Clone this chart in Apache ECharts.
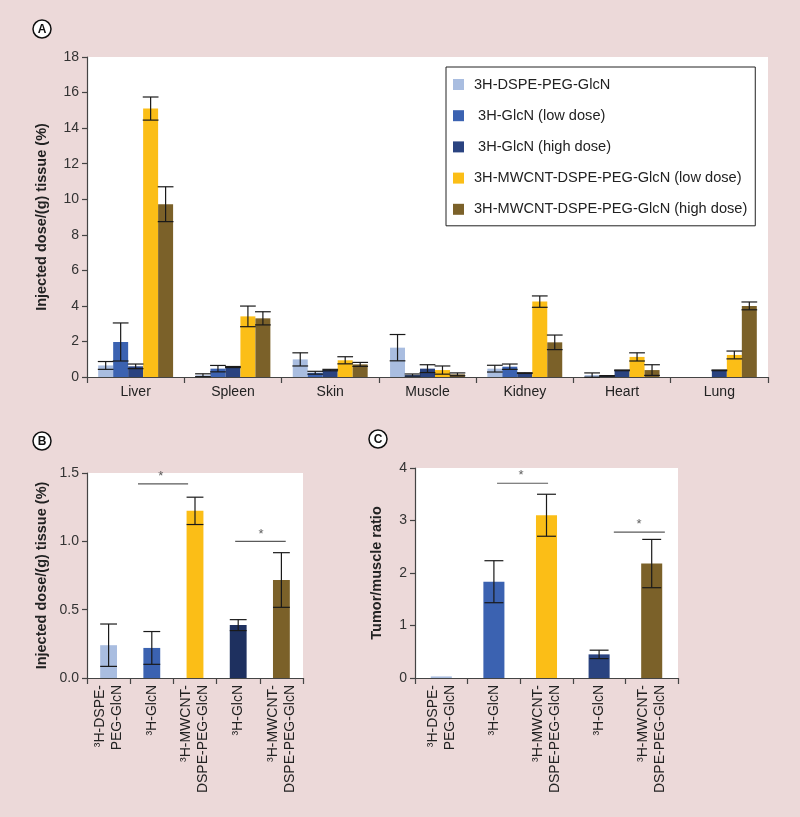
<!DOCTYPE html>
<html>
<head>
<meta charset="utf-8">
<script src="https://cdn.jsdelivr.net/npm/echarts@6/dist/echarts.min.js"></script>
<style>
html,body{margin:0;padding:0;background:#ecd9d9;}
#chart{width:800px;height:817px;}
</style>
</head>
<body>
<div id="chart"></div>
<script>
// ---------- Data ----------
const tissues = ['Liver', 'Spleen', 'Skin', 'Muscle', 'Kidney', 'Heart', 'Lung'];
const seriesNamesA = ['3H-DSPE-PEG-GlcN', ' 3H-GlcN (low dose)', ' 3H-GlcN (high dose)', '3H-MWCNT-DSPE-PEG-GlcN (low dose)', '3H-MWCNT-DSPE-PEG-GlcN (high dose)'];
const dspePegGlcN   = [0.65, 0.10, 0.99, 1.65, 0.47, 0.11, 0];
const glcnLow       = [1.97, 0.47, 0.24, 0.11, 0.58, 0.06, 0];
const glcnHigh      = [0.60, 0.56, 0.39, 0.47, 0.22, 0.375, 0.375];
const mwcntLow      = [15.1, 3.41, 0.94, 0.39, 4.24, 1.13, 1.24];
const mwcntHigh     = [9.72, 3.30, 0.71, 0.15, 1.95, 0.39, 4.00];
const errDspePegGlcN = [0.22, 0.08, 0.37, 0.74, 0.19, 0.12, 0];
const errGlcnLow     = [1.07, 0.18, 0.08, 0.06, 0.15, 0.02, 0];
const errGlcnHigh    = [0.13, 0.03, 0.04, 0.22, 0.02, 0.02, 0.02];
const errMwcntLow    = [0.65, 0.58, 0.20, 0.23, 0.32, 0.23, 0.22];
const errMwcntHigh   = [0.98, 0.37, 0.11, 0.08, 0.41, 0.30, 0.22];

const groupsBC = ['³H-DSPE-\nPEG-GlcN', '³H-GlcN', '³H-MWCNT-\nDSPE-PEG-GlcN', '³H-GlcN', '³H-MWCNT-\nDSPE-PEG-GlcN'];
const tumorDose   = [0.24, 0.22, 1.223, 0.387, 0.717];
const tumorDoseErr = [0.155, 0.12, 0.10, 0.04, 0.20];
const tumorMuscle   = [0.03, 1.834, 3.10, 0.45, 2.18];
const tumorMuscleErr = [0.0, 0.40, 0.40, 0.08, 0.46];

const ticksA = [0, 18, 2];
const ticksB = [0, 1.5, 0.5];
const ticksC = [0, 4, 1];

// significance brackets: [xStart, xEnd, y] in category-index units
const sigB = [[0.68, 1.84, 1.42], [2.93, 4.10, 1.00]];
const sigC = [[1.06, 2.03, 3.71], [3.28, 4.25, 2.78]];
const starB = [[1.21, 1.50], [3.53, 1.075]];
const starC = [[1.515, 3.92], [3.76, 2.99]];

// ---------- Styles ----------
const colorsA = ['#a9bde0', '#3b62b1', '#2a4380', '#fbbe17', '#7b6129'];
const colorsB = ['#a9bde0', '#3b62b1', '#fbbe17', '#1e305f', '#7b6129'];
const colorsC = ['#a9bde0', '#3b62b1', '#fbbe17', '#2a4380', '#7b6129'];
const txt = '#222';
const axisCol = '#444';
const fontFam = '"Liberation Sans", Arial, Helvetica, sans-serif';

const valuesA = [dspePegGlcN, glcnLow, glcnHigh, mwcntLow, mwcntHigh];
const errsA = [errDspePegGlcN, errGlcnLow, errGlcnHigh, errMwcntLow, errMwcntHigh];

const gapA = 0.23;

function errRenderer(k, nBars, gap, capRatio) {
  return function (params, api) {
    const c = api.value(0);
    const lo = api.coord([c, api.value(1)]);
    const hi = api.coord([c, api.value(2)]);
    const cw = api.size([1, 0])[0];
    const gw = cw * (1 - gap);
    const bw = gw / nBars;
    const cx = lo[0] - gw / 2 + (k + 0.5) * bw;
    const half = bw * capRatio / 2;
    const st = { stroke: '#1a1a1a', lineWidth: 1.2 };
    return {
      type: 'group',
      children: [
        { type: 'line', shape: { x1: cx, y1: lo[1], x2: cx, y2: hi[1] }, style: st },
        { type: 'line', shape: { x1: cx - half, y1: hi[1], x2: cx + half, y2: hi[1] }, style: st },
        { type: 'line', shape: { x1: cx - half, y1: lo[1], x2: cx + half, y2: lo[1] }, style: st }
      ]
    };
  };
}

const series = [];
// Panel A bars
valuesA.forEach((vals, k) => {
  series.push({
    name: seriesNamesA[k], type: 'bar', xAxisIndex: 0, yAxisIndex: 0,
    data: vals, barGap: '0%', barCategoryGap: (gapA * 100) + '%',
    itemStyle: { color: colorsA[k] }, silent: true
  });
});
// Panel A error bars
valuesA.forEach((vals, k) => {
  const d = vals.map((v, i) => [i, v - errsA[k][i], v + errsA[k][i]]).filter((d, i) => errsA[k][i] > 0);
  series.push({
    type: 'custom', xAxisIndex: 0, yAxisIndex: 0, z: 5, silent: true,
    renderItem: errRenderer(k, 5, gapA, 1.05), data: d, encode: { x: 0, y: [1, 2] }
  });
});
// Panel B
series.push({
  type: 'bar', xAxisIndex: 1, yAxisIndex: 1, barCategoryGap: '61%', silent: true,
  data: tumorDose.map((v, i) => ({ value: v, itemStyle: { color: colorsB[i] } }))
});
series.push({
  type: 'custom', xAxisIndex: 1, yAxisIndex: 1, z: 5, silent: true,
  renderItem: errRenderer(0, 1, 0.61, 1.0),
  data: tumorDose.map((v, i) => [i, v - tumorDoseErr[i], v + tumorDoseErr[i]]),
  encode: { x: 0, y: [1, 2] }
});
// Panel C
series.push({
  type: 'bar', xAxisIndex: 2, yAxisIndex: 2, barCategoryGap: '60%', silent: true,
  data: tumorMuscle.map((v, i) => ({ value: v, itemStyle: { color: colorsC[i] } }))
});
series.push({
  type: 'custom', xAxisIndex: 2, yAxisIndex: 2, z: 5, silent: true,
  renderItem: errRenderer(0, 1, 0.60, 0.9),
  data: tumorMuscle.map((v, i) => [i, v - tumorMuscleErr[i], v + tumorMuscleErr[i]]).filter((d, i) => tumorMuscleErr[i] > 0),
  encode: { x: 0, y: [1, 2] }
});
// significance lines and stars
[[sigB, starB, 3, 1], [sigC, starC, 4, 2]].forEach(([sig, star, xi, yi]) => {
  sig.forEach(s => {
    series.push({
      type: 'line', xAxisIndex: xi, yAxisIndex: yi, symbol: 'none', silent: true,
      lineStyle: { color: '#5a5a5a', width: 1.2 }, data: [[s[0], s[2]], [s[1], s[2]]]
    });
  });
  series.push({
    type: 'scatter', xAxisIndex: xi, yAxisIndex: yi, symbolSize: 0, silent: true,
    data: star,
    label: { show: true, formatter: '*', position: 'inside', fontSize: 13, color: '#333', fontFamily: fontFam, offset: [0, 3] }
  });
});

function valAxis(grid, t, name, gap, fmt) {
  return {
    type: 'value', gridIndex: grid, min: t[0], max: t[1], interval: t[2],
    name: name, nameLocation: 'middle', nameGap: gap,
    nameTextStyle: { fontSize: 14.5, fontWeight: 'bold', color: txt, fontFamily: fontFam },
    axisLine: { show: true, onZero: false, lineStyle: { color: axisCol, width: 1.2 } },
    axisTick: { show: true, length: 5, lineStyle: { color: axisCol, width: 1.2 } },
    axisLabel: { fontSize: 14, color: '#333', margin: 8, fontFamily: fontFam, formatter: fmt },
    splitLine: { show: false }
  };
}
function catAxis(grid, data, rotate) {
  return {
    type: 'category', gridIndex: grid, data: data,
    axisLine: { show: true, onZero: false, lineStyle: { color: axisCol, width: 1.2 } },
    axisTick: { show: true, length: 6, alignWithLabel: false, lineStyle: { color: axisCol, width: 1.2 } },
    axisLabel: rotate ? { rotate: 90, fontSize: 14, color: txt, margin: 7, lineHeight: 17, fontFamily: fontFam, interval: 0 }
                      : { fontSize: 14, color: txt, margin: 8, fontFamily: fontFam, interval: 0 }
  };
}
function hiddenX(grid) {
  return { type: 'value', gridIndex: grid, min: -0.5, max: 4.5, show: false };
}

function circleLabel(x, y, ch) {
  return {
    type: 'group', x: x, y: y, children: [
      { type: 'circle', shape: { cx: 0, cy: 0, r: 9 }, style: { fill: '#fff', stroke: '#111', lineWidth: 1.5 } },
      { type: 'text', style: { text: ch, x: 0, y: 0.5, fill: '#111', font: 'bold 12px ' + fontFam, textAlign: 'center', textVerticalAlign: 'middle' } }
    ]
  };
}

const option = {
  backgroundColor: '#ecd9d9',
  animation: false,
  grid: [
    { left: 87, right: 32, top: 57, bottom: 440, show: true, backgroundColor: '#fff', borderWidth: 0 },
    { left: 87, right: 497, top: 473, bottom: 139, show: true, backgroundColor: '#fff', borderWidth: 0 },
    { left: 415, right: 122, top: 468, bottom: 139, show: true, backgroundColor: '#fff', borderWidth: 0 }
  ],
  xAxis: [catAxis(0, tissues, false), catAxis(1, groupsBC, true), catAxis(2, groupsBC, true), hiddenX(1), hiddenX(2)],
  yAxis: [
    valAxis(0, ticksA, 'Injected dose/(g) tissue (%)', 38),
    valAxis(1, ticksB, 'Injected dose/(g) tissue (%)', 38, v => v.toFixed(1)),
    valAxis(2, ticksC, 'Tumor/muscle ratio', 31)
  ],
  legend: {
    data: seriesNamesA, orient: 'vertical', left: 446, top: 67,
    icon: 'rect', itemWidth: 11, itemHeight: 11, itemGap: 16.2,
    padding: [10, 8, 9, 7], borderColor: '#222', borderWidth: 1, backgroundColor: '#fff',
    textStyle: { fontSize: 14.6, color: txt, fontFamily: fontFam, padding: [0, 0, 0, 5] },
    selectedMode: false
  },
  graphic: [circleLabel(42, 29, 'A'), circleLabel(42, 441, 'B'), circleLabel(378, 439, 'C')],
  series: series
};

const chart = echarts.init(document.getElementById('chart'), null, { renderer: 'canvas' });
chart.setOption(option);
</script>
</body>
</html>
